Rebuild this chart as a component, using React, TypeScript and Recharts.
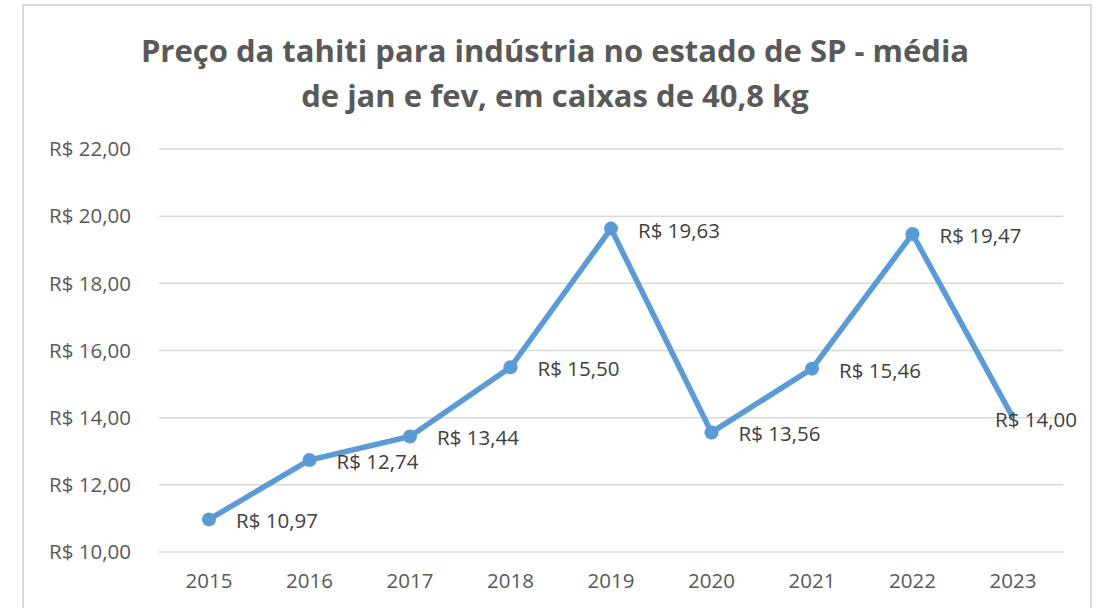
import { LineChart, Line, XAxis, YAxis, CartesianGrid, LabelList } from 'recharts';

const years = ['2015', '2016', '2017', '2018', '2019', '2020', '2021', '2022', '2023'];
const prices = [10.97, 12.74, 13.44, 15.5, 19.63, 13.56, 15.46, 19.47, 14.0];
const yTicks = [10, 12, 14, 16, 18, 20, 22];

const data = years.map((year, i) => ({ year, price: prices[i] }));

const FONT = '"Open Sans", "Noto Sans", sans-serif';
const brl = (v: number) => 'R$ ' + v.toFixed(2).replace('.', ',');

function PointLabel(props: any) {
  const { x, y, value, index } = props;
  const last = index === prices.length - 1;
  return (
    <text
      x={last ? x - 18 : x + 27}
      y={y + 1}
      dominantBaseline="central"
      fill="#404040"
      fontSize={20.5}
      fontFamily={FONT}
    >
      {brl(value)}
    </text>
  );
}

function Dot(props: any) {
  const { cx, cy, index } = props;
  if (index === prices.length - 1) return <g key={index} />;
  return <circle key={index} cx={cx} cy={cy} r={7} fill="#5B9BD5" />;
}

export default function App() {
  return (
    <div style={{ position: 'absolute', left: 0, top: 0, width: 1094, height: 608, background: '#fff', overflow: 'hidden', fontFamily: FONT }}>
      <div style={{ position: 'absolute', left: 22, top: 4, width: 1066, height: 640, border: '2px solid #d9d9d9' }} />
      <div style={{ position: 'absolute', left: 0, top: 28, width: 1110, textAlign: 'center', color: '#595959', fontWeight: 700, fontSize: 31, lineHeight: '45px' }}>
        Preço da tahiti para indústria no estado de SP - média
        <br />
        de jan e fev, em caixas de 40,8 kg
      </div>
      <div style={{ position: 'absolute', left: 0, top: 0 }}>
        <LineChart width={1094} height={608} data={data} margin={{ top: 149, right: 31, bottom: 26, left: 0 }}>
          <CartesianGrid vertical={false} stroke="#d9d9d9" strokeWidth={1.5} />
          <XAxis
            dataKey="year"
            padding={{ left: 50, right: 50 }}
            axisLine={false}
            tickLine={false}
            tickSize={0}
            tickMargin={21}
            height={30}
            tick={{ fill: '#595959', fontSize: 20.5, fontFamily: FONT }}
          />
          <YAxis
            domain={[10, 22]}
            ticks={yTicks}
            width={159}
            axisLine={false}
            tickLine={false}
            tickSize={0}
            tickMargin={28}
            tickFormatter={brl}
            tick={{ fill: '#595959', fontSize: 20.5, fontFamily: FONT }}
          />
          <Line
            dataKey="price"
            stroke="#5B9BD5"
            strokeWidth={5.5}
            dot={<Dot />}
            activeDot={false}
            isAnimationActive={false}
          >
            <LabelList dataKey="price" content={<PointLabel />} />
          </Line>
        </LineChart>
      </div>
    </div>
  );
}
